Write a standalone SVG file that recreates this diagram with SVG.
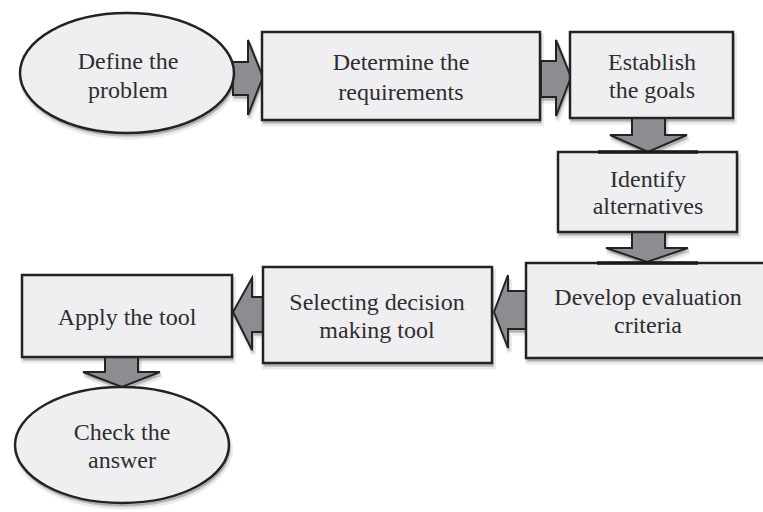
<svg xmlns="http://www.w3.org/2000/svg" xmlns:xlink="http://www.w3.org/1999/xlink" width="763" height="512" viewBox="0 0 763 512">
  <defs>
    <!-- shape outlines, reused for the soft shadow layers and the visible shapes -->
    <ellipse id="s-define" cx="127" cy="73" rx="107" ry="60"/>
    <rect id="s-determine" x="262" y="32" width="278" height="88"/>
    <rect id="s-establish" x="570" y="32" width="163" height="86"/>
    <rect id="s-identify" x="558" y="152" width="179" height="80"/>
    <rect id="s-develop" x="526" y="263" width="250" height="95"/>
    <rect id="s-selecting" x="263" y="267" width="229" height="96"/>
    <rect id="s-apply" x="22" y="275" width="210" height="82"/>
    <ellipse id="s-check" cx="122" cy="445" rx="107" ry="58"/>
    <polygon id="a1" points="233,62 248,62 248,40 263,77 248,115 248,95 233,95"/>
    <polygon id="a2" points="541,61 556,61 556,40 571,77 556,116 556,97 541,97"/>
    <polygon id="a3" points="632,118 665,118 665,135 687,135 648,152 610,135 632,135"/>
    <polygon id="a4" points="632,232 665,232 665,248 688,248 647,262 606,248 632,248"/>
    <polygon id="a5" points="526,291 508,291 508,275 494,312 508,348 508,329 526,329"/>
    <polygon id="a6" points="263,297 252,297 252,278 233,312 252,350 252,332 263,332"/>
    <polygon id="a7" points="105,357 138,357 138,372 160,372 122,387 83,372 105,372"/>
  </defs>
  <style>
    .node { fill: #efeff2; stroke: #232323; stroke-width: 2.5; }
    .arrow { fill: #8c8d91; stroke: #232323; stroke-width: 2; stroke-linejoin: miter; }
    .seam { stroke: #1a1a1a; stroke-width: 3.5; }
    .sh1 { fill: #000; fill-opacity: 0.10; stroke: #000; stroke-opacity: 0.08; stroke-width: 5; }
    .sh2 { fill: #000; fill-opacity: 0.12; stroke: #000; stroke-opacity: 0.10; stroke-width: 2; }
  </style>
  <rect width="763" height="512" fill="#ffffff"/>

  <!-- soft drop shadow: two offset translucent layers -->
  <g id="shadows">
    <g transform="translate(1.5,4)" class="sh1">
      <use xlink:href="#s-define"/><use xlink:href="#s-determine"/><use xlink:href="#s-establish"/>
      <use xlink:href="#s-identify"/><use xlink:href="#s-develop"/><use xlink:href="#s-selecting"/>
      <use xlink:href="#s-apply"/><use xlink:href="#s-check"/>
      <use xlink:href="#a1"/><use xlink:href="#a2"/><use xlink:href="#a3"/><use xlink:href="#a4"/>
      <use xlink:href="#a5"/><use xlink:href="#a6"/><use xlink:href="#a7"/>
    </g>
    <g transform="translate(1,2.5)" class="sh2">
      <use xlink:href="#s-define"/><use xlink:href="#s-determine"/><use xlink:href="#s-establish"/>
      <use xlink:href="#s-identify"/><use xlink:href="#s-develop"/><use xlink:href="#s-selecting"/>
      <use xlink:href="#s-apply"/><use xlink:href="#s-check"/>
      <use xlink:href="#a1"/><use xlink:href="#a2"/><use xlink:href="#a3"/><use xlink:href="#a4"/>
      <use xlink:href="#a5"/><use xlink:href="#a6"/><use xlink:href="#a7"/>
    </g>
  </g>

  <!-- block arrows between the steps -->
  <g id="connectors" class="arrow">
    <use xlink:href="#a1"/>
    <use xlink:href="#a2"/>
    <use xlink:href="#a3"/>
    <use xlink:href="#a4"/>
    <use xlink:href="#a5"/>
    <use xlink:href="#a6"/>
    <use xlink:href="#a7"/>
  </g>

  <g id="define">
    <use class="node" xlink:href="#s-define"/>
    <text font-family="Liberation Serif" font-size="24" fill="#2e2e2e" text-anchor="middle" x="128" y="69">Define the</text>
    <text font-family="Liberation Serif" font-size="24" fill="#2e2e2e" text-anchor="middle" x="128" y="98">problem</text>
  </g>

  <g id="determine">
    <use class="node" xlink:href="#s-determine"/>
    <text font-family="Liberation Serif" font-size="24" fill="#2e2e2e" text-anchor="middle" x="401" y="70">Determine the</text>
    <text font-family="Liberation Serif" font-size="24" fill="#2e2e2e" text-anchor="middle" x="401" y="100">requirements</text>
  </g>

  <g id="establish">
    <use class="node" xlink:href="#s-establish"/>
    <text font-family="Liberation Serif" font-size="24" fill="#2e2e2e" text-anchor="middle" x="652" y="70">Establish</text>
    <text font-family="Liberation Serif" font-size="24" fill="#2e2e2e" text-anchor="middle" x="652" y="98">the goals</text>
  </g>

  <g id="identify">
    <use class="node" xlink:href="#s-identify"/>
    <line class="seam" x1="598" y1="152" x2="698" y2="152"/>
    <text font-family="Liberation Serif" font-size="24" fill="#2e2e2e" text-anchor="middle" x="648" y="187">Identify</text>
    <text font-family="Liberation Serif" font-size="24" fill="#2e2e2e" text-anchor="middle" x="648" y="214">alternatives</text>
  </g>

  <g id="develop">
    <use class="node" xlink:href="#s-develop"/>
    <line class="seam" x1="597" y1="263" x2="698" y2="263"/>
    <text font-family="Liberation Serif" font-size="24" fill="#2e2e2e" text-anchor="middle" x="648" y="305">Develop evaluation</text>
    <text font-family="Liberation Serif" font-size="24" fill="#2e2e2e" text-anchor="middle" x="648" y="333">criteria</text>
  </g>

  <g id="selecting">
    <use class="node" xlink:href="#s-selecting"/>
    <text font-family="Liberation Serif" font-size="24" fill="#2e2e2e" text-anchor="middle" x="377" y="310">Selecting decision</text>
    <text font-family="Liberation Serif" font-size="24" fill="#2e2e2e" text-anchor="middle" x="377" y="338">making tool</text>
  </g>

  <g id="apply">
    <use class="node" xlink:href="#s-apply"/>
    <text font-family="Liberation Serif" font-size="24" fill="#2e2e2e" text-anchor="middle" x="127" y="325">Apply the tool</text>
  </g>

  <g id="check">
    <use class="node" xlink:href="#s-check"/>
    <text font-family="Liberation Serif" font-size="24" fill="#2e2e2e" text-anchor="middle" x="122" y="440">Check the</text>
    <text font-family="Liberation Serif" font-size="24" fill="#2e2e2e" text-anchor="middle" x="122" y="468">answer</text>
  </g>
</svg>
